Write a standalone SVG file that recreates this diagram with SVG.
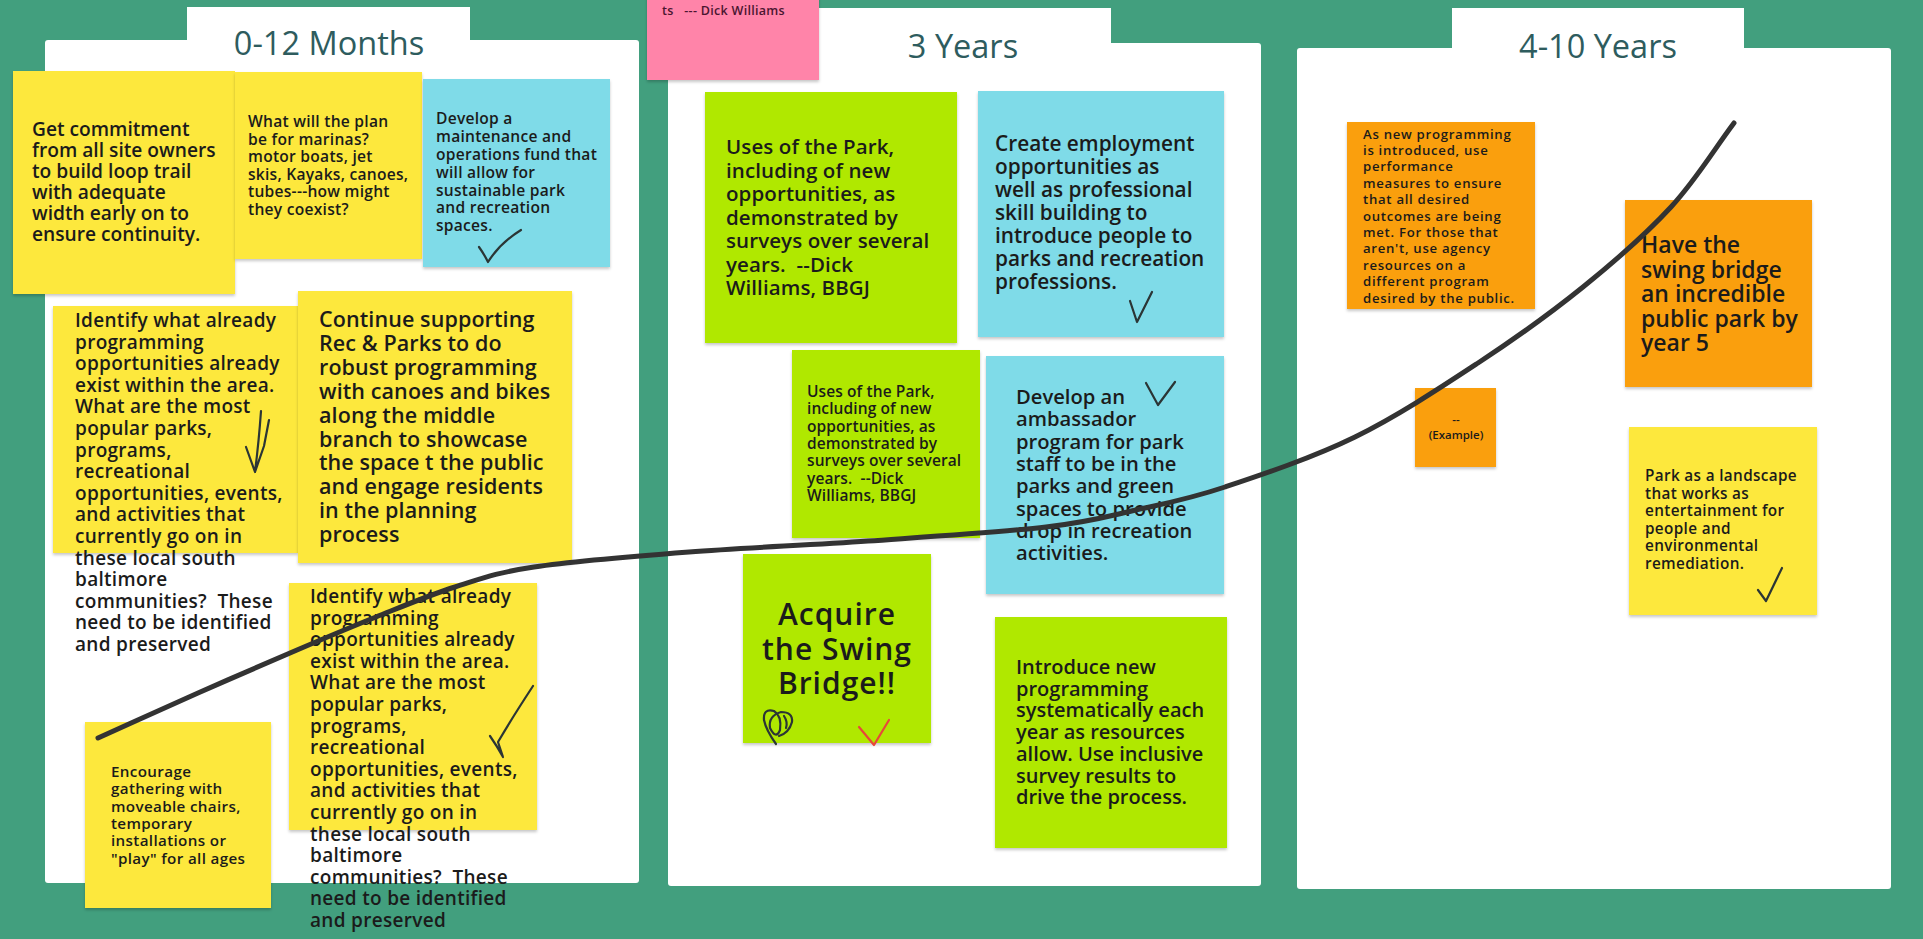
<svg xmlns="http://www.w3.org/2000/svg" width="1923" height="939" viewBox="0 0 1923 939">
<defs>
<filter id="sh" x="-10%" y="-10%" width="120%" height="125%">
<feDropShadow dx="0" dy="2" stdDeviation="1.5" flood-color="#000" flood-opacity="0.22"/>
</filter>
<style>
.panel{fill:#ffffff}
.title{font-family:"Open Sans","Liberation Sans",sans-serif;font-weight:500;font-size:32.5px;fill:#2e5c5e;text-anchor:middle}
.y{fill:#fde83c;filter:url(#sh)}
.c{fill:#7fdbe8;filter:url(#sh)}
.g{fill:#b0e800;filter:url(#sh)}
.o{fill:#fa9f0a;filter:url(#sh)}
.p{fill:#ff84a9;filter:url(#sh)}
.t{font-family:"Open Sans","Liberation Sans",sans-serif;font-weight:600;fill:#1b1b1b}
.mk{fill:none;stroke:#2b3535;stroke-width:2.2;stroke-linecap:round;stroke-linejoin:round}
.trend{fill:none;stroke:#333;stroke-width:5;stroke-linecap:round;stroke-linejoin:round}
</style>
</defs>
<rect width="1923" height="939" fill="#429f7e"/>

<g id="panel-0-12">
<rect class="panel" x="187" y="7" width="283" height="40"/>
<rect class="panel" x="45" y="40" width="594" height="843" rx="3"/>
<text class="title" x="329" y="55">0-12 Months</text>
</g>
<g id="panel-3y">
<rect class="panel" x="815" y="8" width="296" height="40"/>
<rect class="panel" x="668" y="43" width="593" height="843" rx="3"/>
<text class="title" x="963" y="58">3 Years</text>
</g>
<g id="panel-4-10">
<rect class="panel" x="1452" y="8" width="292" height="42"/>
<rect class="panel" x="1297" y="48" width="594" height="841" rx="3"/>
<text class="title" x="1598" y="58">4-10 Years</text>
</g>

<g id="note-pink">
<rect class="p" x="647" y="-4" width="172" height="84"/>
<text class="t" font-size="12.5" font-weight="700" letter-spacing="0.3" fill="#4a1530" style="fill:#4a1530"><tspan x="662" y="15">ts&#160;&#160; --- Dick Williams</tspan></text>
</g>

<g id="note-commitment">
<rect class="y" x="13" y="71" width="222" height="223"/>
<text class="t" font-size="19.2"><tspan x="32" y="136">Get commitment</tspan><tspan x="32" y="157">from all site owners</tspan><tspan x="32" y="178">to build loop trail</tspan><tspan x="32" y="199">with adequate</tspan><tspan x="32" y="220">width early on to</tspan><tspan x="32" y="241">ensure continuity.</tspan></text>
</g>
<g id="note-marinas">
<rect class="y" x="235" y="72" width="187" height="187"/>
<text class="t" font-size="15.6" letter-spacing="0.25"><tspan x="248" y="127">What will the plan</tspan><tspan x="248" y="144.6">be for marinas?</tspan><tspan x="248" y="162.2">motor boats, jet</tspan><tspan x="248" y="179.8">skis, Kayaks, canoes,</tspan><tspan x="248" y="197.4">tubes---how might</tspan><tspan x="248" y="215">they coexist?</tspan></text>
</g>
<g id="note-fund">
<rect class="c" x="423" y="79" width="187" height="188"/>
<text class="t" font-size="15.6" letter-spacing="0.25"><tspan x="436" y="124">Develop a</tspan><tspan x="436" y="142">maintenance and</tspan><tspan x="436" y="160">operations fund that</tspan><tspan x="436" y="178">will allow for</tspan><tspan x="436" y="196">sustainable park</tspan><tspan x="436" y="213">and recreation</tspan><tspan x="436" y="231">spaces.</tspan></text>
<path class="mk" d="M479,247 Q484,254 488,262 Q500,243 521,230"/>
</g>
<g id="note-identify-1">
<rect class="y" x="53" y="306" width="245" height="247"/>
<text class="t" font-size="19" letter-spacing="0.3"><tspan x="75" y="327">Identify what already</tspan><tspan x="75" y="348.6">programming</tspan><tspan x="75" y="370.2">opportunities already</tspan><tspan x="75" y="391.8">exist within the area.</tspan><tspan x="75" y="413.4">What are the most</tspan><tspan x="75" y="435">popular parks,</tspan><tspan x="75" y="456.6">programs,</tspan><tspan x="75" y="478.2">recreational</tspan><tspan x="75" y="499.8">opportunities, events,</tspan><tspan x="75" y="521.4">and activities that</tspan><tspan x="75" y="543">currently go on in</tspan><tspan x="75" y="564.6">these local south</tspan><tspan x="75" y="586.2">baltimore</tspan><tspan x="75" y="607.8">communities?&#160; These</tspan><tspan x="75" y="629.4">need to be identified</tspan><tspan x="75" y="651">and preserved</tspan></text>
<path class="mk" d="M261,411 Q259,440 255,472 M246,447 L255,472 L264,446 L269,420"/>
</g>
<g id="note-continue">
<rect class="y" x="298" y="291" width="274" height="272"/>
<text class="t" font-size="21.5" letter-spacing="0.1"><tspan x="319" y="327">Continue supporting</tspan><tspan x="319" y="350.9">Rec &amp; Parks to do</tspan><tspan x="319" y="374.8">robust programming</tspan><tspan x="319" y="398.7">with canoes and bikes</tspan><tspan x="319" y="422.6">along the middle</tspan><tspan x="319" y="446.5">branch to showcase</tspan><tspan x="319" y="470.4">the space t the public</tspan><tspan x="319" y="494.3">and engage residents</tspan><tspan x="319" y="518.2">in the planning</tspan><tspan x="319" y="542.1">process</tspan></text>
</g>
<g id="note-identify-2">
<rect class="y" x="289" y="583" width="248" height="247"/>
<text class="t" font-size="19" letter-spacing="0.3"><tspan x="310" y="603">Identify what already</tspan><tspan x="310" y="624.6">programming</tspan><tspan x="310" y="646.2">opportunities already</tspan><tspan x="310" y="667.8">exist within the area.</tspan><tspan x="310" y="689.4">What are the most</tspan><tspan x="310" y="711">popular parks,</tspan><tspan x="310" y="732.6">programs,</tspan><tspan x="310" y="754.2">recreational</tspan><tspan x="310" y="775.8">opportunities, events,</tspan><tspan x="310" y="797.4">and activities that</tspan><tspan x="310" y="819">currently go on in</tspan><tspan x="310" y="840.6">these local south</tspan><tspan x="310" y="862.2">baltimore</tspan><tspan x="310" y="883.8">communities?&#160; These</tspan><tspan x="310" y="905.4">need to be identified</tspan><tspan x="310" y="927">and preserved</tspan></text>
<path class="mk" stroke-width="2.6" d="M490,736 Q497,746 503,757 Q500,748 498,742 Q512,718 533,686"/>
</g>
<g id="note-encourage">
<rect class="y" x="85" y="722" width="186" height="186"/>
<text class="t" font-size="15.2" letter-spacing="0.35"><tspan x="111" y="777">Encourage</tspan><tspan x="111" y="794.3">gathering with</tspan><tspan x="111" y="811.6">moveable chairs,</tspan><tspan x="111" y="828.9">temporary</tspan><tspan x="111" y="846.2">installations or</tspan><tspan x="111" y="863.5">"play" for all ages</tspan></text>
</g>

<g id="note-uses-1">
<rect class="g" x="705" y="92" width="252" height="251"/>
<text class="t" font-size="20.5" letter-spacing="0.1"><tspan x="726" y="154">Uses of the Park,</tspan><tspan x="726" y="177.5">including of new</tspan><tspan x="726" y="201">opportunities, as</tspan><tspan x="726" y="224.5">demonstrated by</tspan><tspan x="726" y="248">surveys over several</tspan><tspan x="726" y="271.5">years.&#160; --Dick</tspan><tspan x="726" y="295">Williams, BBGJ</tspan></text>
</g>
<g id="note-employment">
<rect class="c" x="978" y="91" width="246" height="246"/>
<text class="t" font-size="20.8"><tspan x="995" y="151">Create employment</tspan><tspan x="995" y="174">opportunities as</tspan><tspan x="995" y="197">well as professional</tspan><tspan x="995" y="220">skill building to</tspan><tspan x="995" y="243">introduce people to</tspan><tspan x="995" y="266">parks and recreation</tspan><tspan x="995" y="289">professions.</tspan></text>
<path class="mk" d="M1130,301 L1137,322 L1152,292"/>
</g>
<g id="note-uses-2">
<rect class="g" x="792" y="350" width="188" height="188"/>
<text class="t" font-size="15.5" letter-spacing="0.1"><tspan x="807" y="397">Uses of the Park,</tspan><tspan x="807" y="414.3">including of new</tspan><tspan x="807" y="431.6">opportunities, as</tspan><tspan x="807" y="448.9">demonstrated by</tspan><tspan x="807" y="466.2">surveys over several</tspan><tspan x="807" y="483.5">years.&#160; --Dick</tspan><tspan x="807" y="500.8">Williams, BBGJ</tspan></text>
</g>
<g id="note-ambassador">
<rect class="c" x="986" y="356" width="238" height="238"/>
<text class="t" font-size="20.2"><tspan x="1016" y="404">Develop an</tspan><tspan x="1016" y="426.3">ambassador</tspan><tspan x="1016" y="448.6">program for park</tspan><tspan x="1016" y="470.9">staff to be in the</tspan><tspan x="1016" y="493.2">parks and green</tspan><tspan x="1016" y="515.5">spaces to provide</tspan><tspan x="1016" y="537.8">drop in recreation</tspan><tspan x="1016" y="560.1">activities.</tspan></text>
<path class="mk" d="M1146,383 L1158,405 L1175,382"/>
</g>
<g id="note-swing-bridge">
<rect class="g" x="743" y="554" width="188" height="189"/>
<text class="t" font-size="30" font-weight="700" letter-spacing="1" text-anchor="middle"><tspan x="837" y="625">Acquire</tspan><tspan x="837" y="660">the Swing</tspan><tspan x="837" y="694">Bridge!!</tspan></text>
<path class="mk" stroke-width="2.4" d="M776,744 Q766,730 764,720 Q763,708 774,711 Q782,716 780,730 Q776,740 770,728 Q768,716 781,712 Q793,712 792,722 Q789,733 779,736 M784,716 Q788,722 786,728"/>
<path fill="none" stroke="#e8473a" stroke-width="2.2" stroke-linecap="round" stroke-linejoin="round" d="M859,727 L874,745 L889,720"/>
</g>
<g id="note-introduce">
<rect class="g" x="995" y="617" width="232" height="231"/>
<text class="t" font-size="20"><tspan x="1016" y="674">Introduce new</tspan><tspan x="1016" y="695.7">programming</tspan><tspan x="1016" y="717.4">systematically each</tspan><tspan x="1016" y="739.1">year as resources</tspan><tspan x="1016" y="760.8">allow. Use inclusive</tspan><tspan x="1016" y="782.5">survey results to</tspan><tspan x="1016" y="804.2">drive the process.</tspan></text>
</g>

<g id="note-performance">
<rect class="o" x="1347" y="122" width="188" height="187"/>
<text class="t" font-size="13.2" letter-spacing="0.7"><tspan x="1363" y="138.5">As new programming</tspan><tspan x="1363" y="154.9">is introduced, use</tspan><tspan x="1363" y="171.3">performance</tspan><tspan x="1363" y="187.7">measures to ensure</tspan><tspan x="1363" y="204.1">that all desired</tspan><tspan x="1363" y="220.5">outcomes are being</tspan><tspan x="1363" y="236.9">met. For those that</tspan><tspan x="1363" y="253.3">aren't, use agency</tspan><tspan x="1363" y="269.7">resources on a</tspan><tspan x="1363" y="286.1">different program</tspan><tspan x="1363" y="302.5">desired by the public.</tspan></text>
</g>
<g id="note-public-park">
<rect class="o" x="1625" y="200" width="187" height="187"/>
<text class="t" font-size="23" font-weight="700"><tspan x="1641" y="253">Have the</tspan><tspan x="1641" y="277.6">swing bridge</tspan><tspan x="1641" y="302.2">an incredible</tspan><tspan x="1641" y="326.8">public park by</tspan><tspan x="1641" y="351.4">year 5</tspan></text>
</g>
<g id="note-example">
<rect class="o" x="1415" y="388" width="81" height="79"/>
<text class="t" font-size="11.5" text-anchor="middle"><tspan x="1456" y="424">--</tspan><tspan x="1456" y="439">(Example)</tspan></text>
</g>
<g id="note-landscape">
<rect class="y" x="1629" y="427" width="188" height="188"/>
<text class="t" font-size="15.3" letter-spacing="0.35"><tspan x="1645" y="481">Park as a landscape</tspan><tspan x="1645" y="498.6">that works as</tspan><tspan x="1645" y="516.2">entertainment for</tspan><tspan x="1645" y="533.8">people and</tspan><tspan x="1645" y="551.4">environmental</tspan><tspan x="1645" y="569">remediation.</tspan></text>
<path class="mk" d="M1758,590 L1766,601 L1782,568"/>
</g>

<g id="connectors">
<path class="trend" d="M98,738 C131.3,723 164.8,707.7 198,693 C231.2,678.3 267.3,662.7 297,650 C326.7,637.3 349.7,627.5 376,617 C402.3,606.5 428.7,595.3 455,587 C481.3,578.7 495,572.8 534,567 C573,561.2 633.3,556.3 689,552 C744.7,547.7 808.5,545.2 868,541 C927.5,536.8 1001.3,532.2 1046,527 C1090.7,521.8 1106.2,516.7 1136,510 C1165.8,503.3 1188.5,499.2 1225,487 C1261.5,474.8 1312.8,457.7 1355,437 C1397.2,416.3 1440,388 1478,363 C1516,338 1550.8,313 1583,287 C1615.2,261 1645.8,234.3 1671,207 C1696.2,179.7 1713,151 1734,123"/>
</g>
</svg>
